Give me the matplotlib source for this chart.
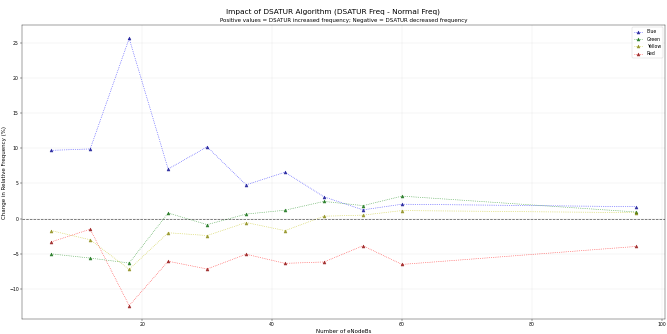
import matplotlib
matplotlib.use("Agg")
import matplotlib.pyplot as plt

nodes = [6, 12, 18, 24, 30, 36, 42, 48, 54, 60, 96]
blue = [9.7, 9.9, 25.6, 7.05, 10.2, 4.8, 6.6, 3.1, 1.25, 2.05, 1.7]
green = [-5.0, -5.6, -6.3, 0.8, -0.85, 0.65, 1.2, 2.45, 1.85, 3.2, 0.95]
yellow = [-1.7, -3.0, -7.2, -2.0, -2.4, -0.55, -1.7, 0.35, 0.5, 1.15, 0.85]
red = [-3.3, -1.5, -12.35, -6.05, -7.15, -5.05, -6.35, -6.15, -3.85, -6.5, -3.95]

series = [("Blue", blue, "blue", "darkblue"),
          ("Green", green, "green", "darkgreen"),
          ("Yellow", yellow, "y", "olive"),
          ("Red", red, "red", "darkred")]

fig = plt.figure(figsize=(20, 10.015), dpi=33.35)
ax = fig.add_subplot(111)
fig.subplots_adjust(left=0.033, right=0.997, bottom=0.045, top=0.925)

for name, vals, c, mc in series:
    ax.plot(nodes, vals, linestyle=":", marker="^", color=c, label=name, alpha=0.75,
            linewidth=1.5, markersize=6.5, markerfacecolor=mc, markeredgecolor=mc)

ax.axhline(0, color="black", linestyle="--", alpha=0.7)
ax.grid(True, alpha=0.3)
ax.set_xlabel("Number of eNodeBs", fontsize=12)
ax.set_ylabel("Change in Relative Frequency (%)", fontsize=12)
ax.set_title("Positive values = DSATUR increased frequency; Negative = DSATUR decreased frequency", fontsize=12)
fig.suptitle("Impact of DSATUR Algorithm (DSATUR Freq - Normal Freq)", fontsize=16, y=0.975)
ax.set_xlim(1.5, 100.5)
ax.legend(loc="upper right")

fig.savefig("out.png", dpi=33.35)
